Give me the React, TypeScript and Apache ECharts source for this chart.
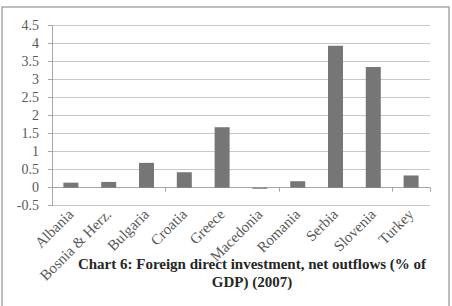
import React, { useEffect, useRef } from "react";
import * as echarts from "echarts";

const categories = ["Albania", "Bosnia & Herz.", "Bulgaria", "Croatia", "Greece", "Macedonia", "Romania", "Serbia", "Slovenia", "Turkey"];
const values = [0.14, 0.16, 0.69, 0.43, 1.68, -0.03, 0.18, 3.94, 3.35, 0.34];
const yMin = -0.5;
const yMax = 4.5;
const yStep = 0.5;
const titleLines = ["Chart 6: Foreign direct investment, net outflows (% of", "GDP) (2007)"];

export default function App() {
  const ref = useRef<HTMLDivElement>(null);
  useEffect(() => {
    if (!ref.current) return;
    const chart = echarts.init(ref.current, null, { renderer: "svg" });
    const serif = "'Liberation Serif', 'Times New Roman', serif";
    chart.setOption({
      animation: false,
      backgroundColor: "#ffffff",
      title: {
        text: titleLines.join("\n"),
        left: 247,
        top: 250,
        textAlign: "center",
        textStyle: { fontFamily: serif, fontSize: 15, fontWeight: "bold", color: "#262626", lineHeight: 18 },
      },
      grid: { left: 52, right: 22, top: 25.7, bottom: 100.3, containLabel: false },
      xAxis: [
        {
          type: "category",
          data: categories,
          position: "bottom",
          axisLine: { show: false, onZero: false },
          axisTick: { show: false },
          axisLabel: { rotate: 45, fontFamily: serif, fontSize: 15, color: "#595959", margin: 6, interval: 0 },
        },
        {
          type: "category",
          data: categories,
          position: "bottom",
          axisLine: { show: true, onZero: true, lineStyle: { color: "#a6a6a6", width: 1 } },
          axisTick: { show: true, length: 4, lineStyle: { color: "#a6a6a6" } },
          axisLabel: { show: false },
        },
      ],
      yAxis: {
        type: "value",
        min: yMin,
        max: yMax,
        interval: yStep,
        axisLine: { show: true, lineStyle: { color: "#a6a6a6" } },
        axisTick: { show: true, length: 4, lineStyle: { color: "#a6a6a6" } },
        splitLine: { show: true, lineStyle: { color: "#c8c8c8", width: 1 } },
        axisLabel: { fontFamily: serif, fontSize: 14, color: "#595959", margin: 13 },
      },
      series: [
        {
          type: "bar",
          data: values,
          xAxisIndex: 0,
          barWidth: 15,
          itemStyle: { color: "#767676" },
        },
      ],
      graphic: [
        {
          type: "rect",
          shape: { x: 2, y: 7, width: 447, height: 320 },
          style: { fill: "none", stroke: "#a8a8a8", lineWidth: 1.5 },
          silent: true,
        },
      ],
    });
    return () => chart.dispose();
  }, []);
  return <div ref={ref} style={{ position: "fixed", left: 0, top: 0, width: 452, height: 306 }} />;
}
